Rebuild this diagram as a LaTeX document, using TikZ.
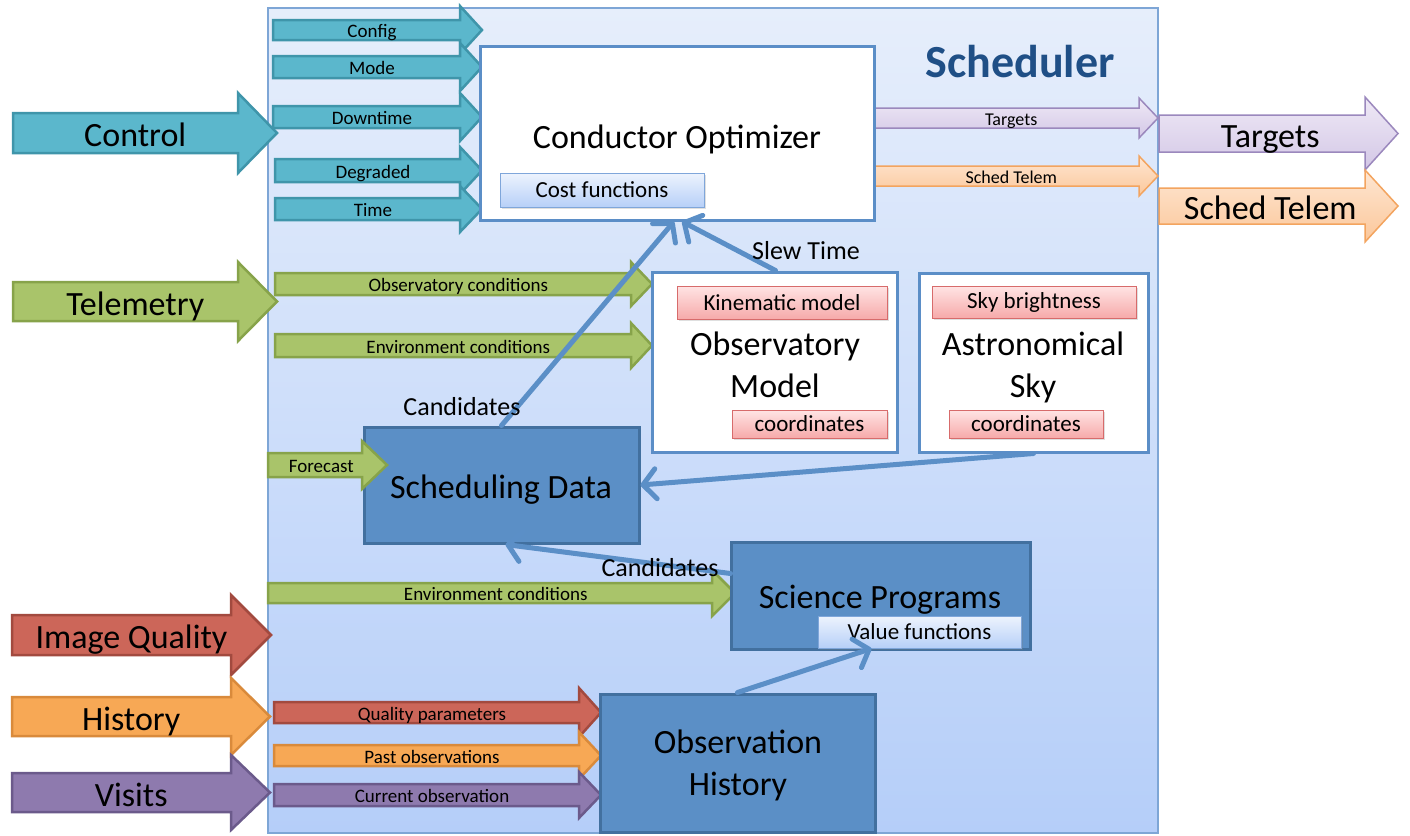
\documentclass[tikz,border=0pt]{standalone}
\usepackage{fontspec}
\setmainfont{Carlito}
\usetikzlibrary{arrows.meta,shadows,calc}
\definecolor{bgtop}{HTML}{E6EEFB}
\definecolor{bgbot}{HTML}{B5CEF9}
\definecolor{bgline}{HTML}{7EA6D6}
\definecolor{ctlfill}{HTML}{5BB7CC}
\definecolor{ctldraw}{HTML}{3F95AA}
\definecolor{telfill}{HTML}{A9C46A}
\definecolor{teldraw}{HTML}{87A34A}
\definecolor{iqfill}{HTML}{CC6659}
\definecolor{iqdraw}{HTML}{A24A3F}
\definecolor{hisfill}{HTML}{F7A855}
\definecolor{hisdraw}{HTML}{D98A3B}
\definecolor{visfill}{HTML}{8E7AAE}
\definecolor{visdraw}{HTML}{6B5A8B}
\definecolor{tgttop}{HTML}{EFE9F6}
\definecolor{tgtbot}{HTML}{D3C7E6}
\definecolor{tgtdraw}{HTML}{9B88BD}
\definecolor{sttop}{HTML}{FEE6D2}
\definecolor{stbot}{HTML}{FBC79A}
\definecolor{stdraw}{HTML}{F3A45F}
\definecolor{darkfill}{HTML}{5B8FC6}
\definecolor{darkline}{HTML}{42709F}
\definecolor{boxline}{HTML}{5B8EC7}
\definecolor{connc}{HTML}{5B8FC7}
\definecolor{pinktop}{HTML}{FFE4E4}
\definecolor{pinkbot}{HTML}{F6AAAA}
\definecolor{pinkline}{HTML}{D76B6B}
\definecolor{bluetop}{HTML}{EDF3FD}
\definecolor{bluebot}{HTML}{B7D0F8}
\definecolor{blueline}{HTML}{7FA6DA}
\definecolor{titlec}{HTML}{1F4F86}
\newcommand{\fszBig}{\fontsize{34}{42}\selectfont}
\newcommand{\fszMid}{\fontsize{26}{30}\selectfont}
\newcommand{\fszIn}{\fontsize{23}{27}\selectfont}
\newcommand{\fszSm}{\fontsize{19}{22}\selectfont}
\newcommand{\fszXs}{\fontsize{18}{21}\selectfont}
% #1 path style, #2 label style, #3 x0, #4 head start, #5 tip x, #6 body top, #7 body bottom, #8 head overhang, #9 text
\newcommand{\fatarr}[9]{%
  \draw[#1] (#3,#6) -- (#4,#6) -- (#4,{#6-#8}) -- (#5,{(#6+#7)/2}) -- (#4,{#7+#8}) -- (#4,#7) -- (#3,#7) -- cycle;
  \node[#2] (L#3x#6) at ({(#3+#4)/2+(#5-#4)/4},{(#6+#7)/2}) {#9};}
\tikzset{
  arr/.style={line width=2.5pt, line join=miter},
  ctl/.style={arr, fill=ctlfill, draw=ctldraw},
  tel/.style={arr, fill=telfill, draw=teldraw},
  iq/.style={arr, fill=iqfill, draw=iqdraw},
  his/.style={arr, fill=hisfill, draw=hisdraw},
  vis/.style={arr, fill=visfill, draw=visdraw},
  tgt/.style={arr, line width=1.5pt, top color=tgttop, bottom color=tgtbot, draw=tgtdraw},
  stl/.style={arr, line width=1.5pt, top color=sttop, bottom color=stbot, draw=stdraw},
  lblbase/.style={inner sep=0pt, anchor=base, text=black},
  biglbl/.style={lblbase, font=\fszBig, yshift=-13.5pt},
  smlbl/.style={lblbase, font=\fszSm, yshift=-7.5pt},
  xslbl/.style={lblbase, font=\fszXs, yshift=-7.5pt},
  boxtext/.style={inner sep=0pt, anchor=base, font=\fszBig, align=center},
  whitebox/.style={draw=boxline, fill=white, line width=3pt, inner sep=0pt},
  darkbox/.style={draw=darkline, fill=darkfill, line width=3pt, inner sep=0pt},
  pinklbl/.style={draw=pinkline, top color=pinktop, bottom color=pinkbot, line width=1pt, inner sep=0pt,
     font=\fszIn, drop shadow={opacity=0.25, shadow xshift=1.5pt, shadow yshift=-2pt}},
  bluelbl/.style={draw=blueline, top color=bluetop, bottom color=bluebot, line width=1pt, inner sep=0pt,
     font=\fszIn, drop shadow={opacity=0.25, shadow xshift=1.5pt, shadow yshift=-2pt}},
  conn/.style={draw=connc, line width=5pt, line cap=round, -{Straight Barb[length=13pt, width=30pt, round]}},
  clabel/.style={font=\fszMid, inner sep=0pt}
}
\begin{document}
\begin{tikzpicture}[x=1pt, y=-1pt]
\useasboundingbox (0,0) rectangle (1410,835);
\fill[white] (0,0) rectangle (1410,835);
% scheduler container
\node[draw=bgline, line width=1.5pt, top color=bgtop, bottom color=bgbot, minimum width=890pt, minimum height=825pt, inner sep=0pt] (sched) at (713,420.5) {};
\node[font=\fontsize{46}{50}\selectfont\bfseries, text=titlec] (title) at (1020,62) {Scheduler};
% control arrows
\fatarr{ctl}{biglbl}{13}{238}{277}{113}{153}{20}{Control}
\fatarr{ctl}{smlbl}{273}{460}{482}{20}{40}{14}{Config}
\fatarr{ctl}{smlbl}{273}{460}{482}{56}{78}{13}{Mode}
\fatarr{ctl}{smlbl}{273}{460}{482}{106}{128}{13}{Downtime}
\fatarr{ctl}{smlbl}{275}{460}{482}{159}{182}{12}{Degraded}
\fatarr{ctl}{smlbl}{275}{460}{482}{198}{220}{12}{Time}
% outputs
\fatarr{tgt}{xslbl}{874}{1139}{1158}{108}{128}{10}{Targets}
\fatarr{stl}{xslbl}{874}{1139}{1158}{166}{186}{10}{Sched Telem}
\fatarr{tgt}{biglbl}{1159}{1365}{1398}{115}{152}{18}{Targets}
\fatarr{stl}{biglbl}{1159}{1365}{1398}{188}{224}{18}{Sched Telem}
% telemetry
\fatarr{tel}{biglbl}{13}{238}{277}{282}{321}{20}{Telemetry}
\fatarr{tel}{smlbl}{275}{631}{652}{273}{295}{11}{Observatory conditions}
\fatarr{tel}{smlbl}{275}{631}{652}{334}{357}{11}{Environment conditions}
\fatarr{tel}{smlbl}{268}{712}{735}{583}{603}{13}{Environment conditions}
% image quality / history / visits
\fatarr{iq}{biglbl}{12}{231}{271}{615}{655}{20}{Image Quality}
\fatarr{his}{biglbl}{12}{231}{270}{697}{736}{19}{History}
\fatarr{vis}{biglbl}{12}{231}{270}{773}{812}{18}{Visits}
\fatarr{iq}{smlbl}{274}{579}{601}{702}{723}{14}{Quality parameters}
\fatarr{his}{smlbl}{274}{579}{601}{745}{766}{13}{Past observations}
\fatarr{vis}{smlbl}{274}{579}{601}{784}{806}{12}{Current observation}
% conductor optimizer
\node[whitebox, minimum width=394pt, minimum height=174pt] (cond) at (677,133) {};
\node[boxtext] (condlbl) at (677,148) {Conductor Optimizer};
\node[bluelbl, minimum width=204pt, minimum height=34pt] (cost) at (602,190) {Cost functions};
% observatory model
\node[whitebox, minimum width=245pt, minimum height=180pt] (obs) at (774.5,362) {};
\node[boxtext] (obslbl) at (775,397) {Observatory\\Model};
\node[pinklbl, minimum width=210pt, minimum height=33pt] (kin) at (782,302.5) {Kinematic model};
\node[pinklbl, minimum width=155pt, minimum height=28pt] (ocoord) at (809.5,424) {coordinates};
% astronomical sky
\node[whitebox, minimum width=229pt, minimum height=179pt] (sky) at (1033.5,362.5) {};
\node[boxtext] (skylbl) at (1033,397) {Astronomical\\Sky};
\node[pinklbl, minimum width=204pt, minimum height=32pt] (bright) at (1034,302) {Sky brightness};
\node[pinklbl, minimum width=154pt, minimum height=28pt] (scoord) at (1026,424) {coordinates};
% dark boxes
\node[darkbox, minimum width=275pt, minimum height=116pt] (sd) at (501.5,485) {};
\node[boxtext] (sdlbl) at (501,498) {Scheduling Data};
\node[darkbox, minimum width=299pt, minimum height=107pt] (sci) at (880.5,595.5) {};
\node[boxtext] (scilbl) at (880,608) {Science Programs};
\node[bluelbl, minimum width=203pt, minimum height=32pt] (vf) at (919.5,632) {Value functions};
\node[darkbox, minimum width=275pt, minimum height=138pt] (oh) at (737.5,763) {};
\node[boxtext] (ohlbl) at (738,795) {Observation\\History};
% forecast arrow drawn over the scheduling data box
\fatarr{tel}{smlbl}{268}{362}{387}{453}{477}{12}{Forecast}
% connectors
\draw[conn] (sd.north) -- ($(cond.south)+(-3,0)$);
\draw[conn] ($(obs.north)+(1,0)$) -- ($(cond.south)+(5,0)$);
\draw[conn] (sky.south) -- (sd.east);
\draw[conn] ($(sci.north west)+(1,33)$) -- ($(sd.south)+(4,0)$);
\draw[conn] (oh.north) -- ($(vf.south west)+(54,0)$);
% connector labels
\node[clabel] (cand1) at (462,407) {Candidates};
\node[clabel] (slew) at (806,251) {Slew Time};
\node[clabel] (cand2) at (660,568) {Candidates};
\end{tikzpicture}
\end{document}
